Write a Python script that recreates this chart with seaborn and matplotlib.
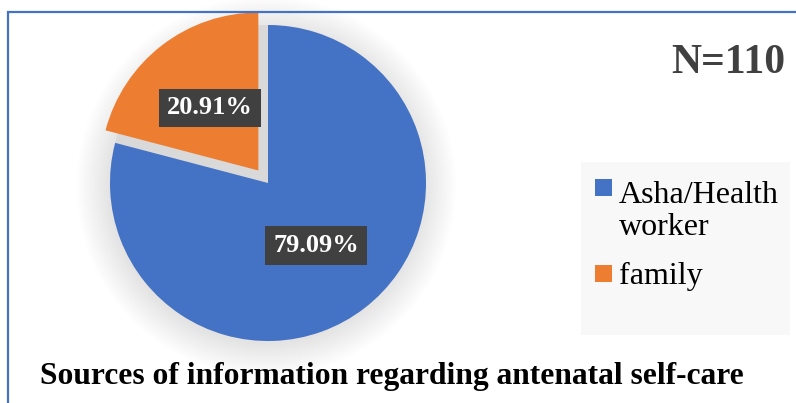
import numpy as np
import seaborn as sns
import matplotlib.pyplot as plt
from matplotlib.patches import Rectangle, Circle

# data
sources = ["Asha/Health worker", "family"]
legend_labels = ["Asha/Health\nworker", "family"]
percent = [79.09, 20.91]
explode = [0, 0.1]
colors = ["#4472C4", "#ED7D31"]
n_total = 110

sns.set_theme(style="white")
plt.rcParams['font.family'] = ['Liberation Serif', 'DejaVu Serif']

fig = plt.figure(figsize=(7.96, 4.03), dpi=100)
W, H = 796, 403

# outer chart border (left and top visible, rest cropped)
fig.patches.append(Rectangle((8 / W, -0.2), 1.5, 1.2 - 12 / H,
                             transform=fig.transFigure, fill=False,
                             edgecolor="#4472C4", linewidth=1.6, zorder=0))

# pie axes: centre at (268, 183) px, radius 158 px
R = 158
k = 1.25
cx, cy = 268, H - 183
ax = fig.add_axes([(cx - k * R) / W, (cy - k * R) / H, 2 * k * R / W, 2 * k * R / H])

# soft shadow glow
for r in np.linspace(1.2, 1.0, 14):
    ax.add_patch(Circle((-0.01, -0.02), r, color="black", alpha=0.008, lw=0, zorder=0))
ax.add_patch(Circle((0, 0), 1.0, color="#d9d9d9", lw=0, zorder=0.5))

wedges, texts, autotexts = ax.pie(
    percent, explode=explode, colors=colors, startangle=90,
    counterclock=False, autopct="%.2f%%", pctdistance=0.5,
    wedgeprops=dict(linewidth=0, zorder=1),
    textprops=dict(color="white", fontsize=19, fontweight="bold"),
)
for t in autotexts:
    t.set_bbox(dict(boxstyle="square,pad=0.3", facecolor="#404040", edgecolor="none"))
    t.set_zorder(5)

ax.set_xlim(-k, k)
ax.set_ylim(-k, k)
ax.set_aspect("equal")
ax.axis("off")

# N label
fig.text(728 / W, 1 - 63 / H, f"N={n_total}", ha="center", va="center",
         fontsize=30, fontweight="bold", color="#404040")

# legend box
fig.patches.append(Rectangle((581 / W, (H - 335) / H), 209 / W, 173 / H,
                             transform=fig.transFigure, facecolor="#f8f8f8",
                             edgecolor="none", zorder=1))
marker_tops = [179, 265]
text_baselines = [199, 284]
line_step = 36
for lab, col, top, base in zip(legend_labels, colors, marker_tops, text_baselines):
    fig.patches.append(Rectangle((595 / W, (H - top - 17) / H), 17 / W, 17 / H,
                                 transform=fig.transFigure, facecolor=col,
                                 edgecolor="none", zorder=2))
    # va="baseline" anchors the last line, so shift down for wrapped labels
    last_base = base + line_step * lab.count("\n")
    fig.text(619 / W, 1 - last_base / H, lab, ha="left", va="baseline",
             fontsize=23, color="black", linespacing=1.13, zorder=3)

# title
fig.text(392 / W, 1 - 384 / H, "Sources of information regarding antenatal self-care",
         ha="center", va="baseline", fontsize=22.7, fontweight="bold", color="black")

fig.savefig("out.png", dpi=100)
